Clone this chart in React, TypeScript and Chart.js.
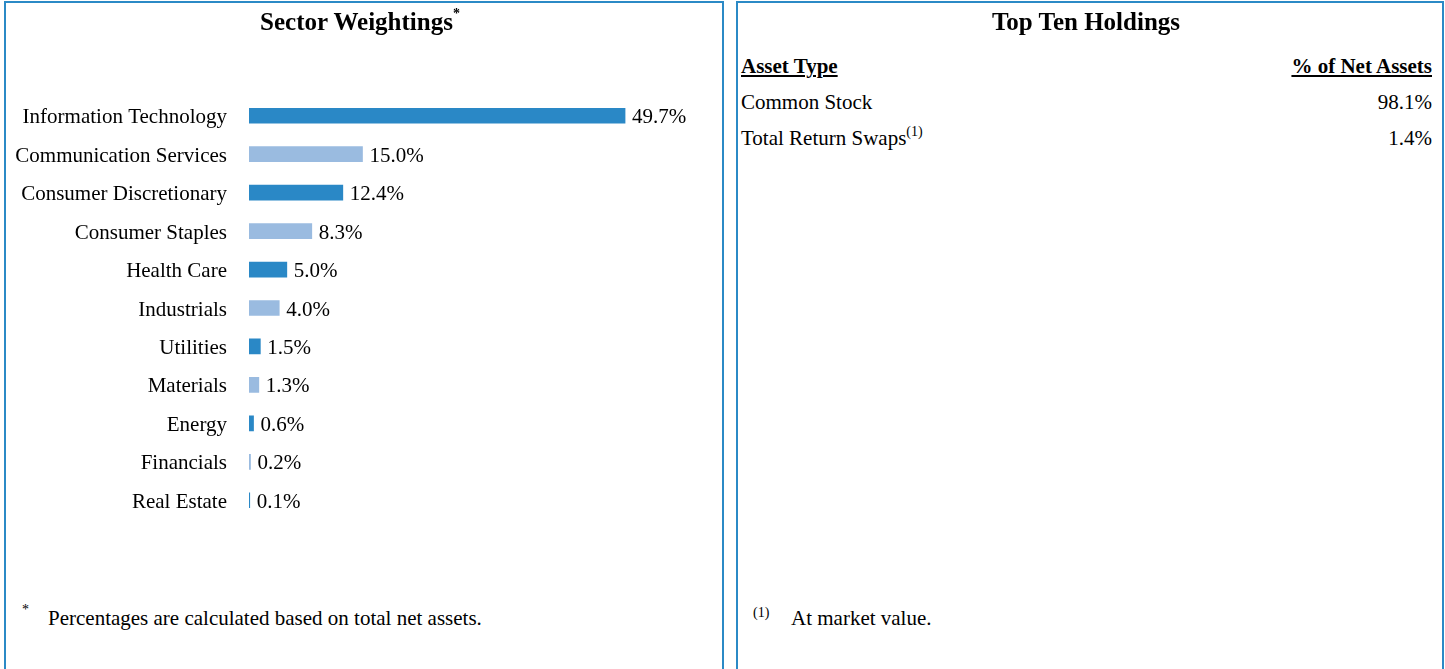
import React, { useEffect, useRef } from "react";
import { Chart, registerables } from "chart.js";

Chart.register(...registerables);

const sectors = [
  "Information Technology",
  "Communication Services",
  "Consumer Discretionary",
  "Consumer Staples",
  "Health Care",
  "Industrials",
  "Utilities",
  "Materials",
  "Energy",
  "Financials",
  "Real Estate",
];
const sectorWeights = [49.7, 15.0, 12.4, 8.3, 5.0, 4.0, 1.5, 1.3, 0.6, 0.2, 0.1];

const holdingTypes = ["Common Stock", "Total Return Swaps"];
const holdingNotes = ["", "(1)"];
const holdingValues = ["98.1%", "1.4%"];

const DARK = "#2A88C6";
const LIGHT = "#9ABBE0";
const BORDER = "#2B8AC6";
const FONT = '"Liberation Serif", "Times New Roman", Times, serif';

const valueLabelPlugin = {
  id: "valueLabels",
  afterDatasetsDraw(chart: any) {
    const ctx = chart.ctx;
    const meta = chart.getDatasetMeta(0);
    ctx.save();
    ctx.font = `21px ${FONT}`;
    ctx.fillStyle = "#000";
    ctx.textAlign = "left";
    ctx.textBaseline = "middle";
    meta.data.forEach((bar: any, i: number) => {
      const v = chart.data.datasets[0].data[i];
      ctx.fillText(`${Number(v).toFixed(1)}%`, bar.x + 7, bar.y + 2);
    });
    ctx.restore();
  },
};

function SectorChart() {
  const ref = useRef<HTMLCanvasElement | null>(null);
  useEffect(() => {
    if (!ref.current) return;
    const chart = new Chart(ref.current, {
      type: "bar",
      data: {
        labels: sectors,
        datasets: [
          {
            data: sectorWeights,
            backgroundColor: sectorWeights.map((_, i) => (i % 2 === 0 ? DARK : LIGHT)),
            barThickness: 15,
            borderWidth: 0,
          },
        ],
      },
      options: {
        indexAxis: "y",
        animation: false,
        responsive: false,
        maintainAspectRatio: false,
        layout: { padding: { top: 96.5, bottom: 40.5, right: 19, left: 0 } },
        plugins: { legend: { display: false }, tooltip: { enabled: false }, title: { display: false } },
        scales: {
          x: { display: false, min: 0, max: 60 },
          y: {
            grid: { display: false, drawTicks: false },
            border: { display: false },
            ticks: {
              color: "#000",
              padding: 22,
              labelOffset: 2,
              font: { family: FONT, size: 21 },
            },
            afterFit(scale: any) {
              scale.width = 249;
            },
          },
        },
      },
      plugins: [valueLabelPlugin],
    } as any);
    return () => chart.destroy();
  }, []);
  return (
    <canvas
      ref={ref}
      width={722}
      height={560}
      style={{ position: "absolute", left: 0, top: 0, width: 722, height: 560 }}
    />
  );
}

export default function App() {
  const panel: React.CSSProperties = {
    position: "absolute",
    top: 1,
    height: 720,
    border: `2px solid ${BORDER}`,
    boxSizing: "border-box",
  };
  const txt: React.CSSProperties = {
    position: "absolute",
    fontFamily: FONT,
    fontSize: 21,
    lineHeight: "24px",
    color: "#000",
    whiteSpace: "nowrap",
  };
  return (
    <div
      style={{
        position: "absolute",
        left: 0,
        top: 0,
        width: 1445,
        height: 669,
        overflow: "hidden",
        background: "#fff",
        fontFamily: FONT,
      }}
    >
      <div style={{ ...panel, left: 4, width: 720 }} />
      <div style={{ ...panel, left: 736, width: 708 }} />
      <SectorChart />
      <div
        style={{
          ...txt,
          left: 0,
          width: 720,
          top: 8,
          textAlign: "center",
          fontWeight: "bold",
          fontSize: 25,
          lineHeight: "28px",
        }}
      >
        Sector Weightings
        <sup style={{ fontSize: 14, lineHeight: 0, position: "relative", top: -3 }}>*</sup>
      </div>
      <div style={{ ...txt, left: 22, top: 598, fontSize: 14 }}>*</div>
      <div style={{ ...txt, left: 48, top: 606 }}>Percentages are calculated based on total net assets.</div>

      <div
        style={{
          ...txt,
          left: 736,
          width: 700,
          top: 8,
          textAlign: "center",
          fontWeight: "bold",
          fontSize: 25,
          lineHeight: "28px",
        }}
      >
        Top Ten Holdings
      </div>
      <div style={{ ...txt, left: 741, top: 54, fontWeight: "bold", textDecoration: "underline" }}>Asset Type</div>
      <div
        style={{
          ...txt,
          right: 1445 - 1432,
          top: 54,
          fontWeight: "bold",
          textDecoration: "underline",
          textAlign: "right",
        }}
      >
        % of Net Assets
      </div>
      {holdingTypes.map((t, i) => (
        <React.Fragment key={t}>
          <div style={{ ...txt, left: 741, top: 90 + i * 36 }}>
            {t}
            {holdingNotes[i] ? (
              <sup style={{ fontSize: 14, lineHeight: 0, position: "relative", top: -1 }}>{holdingNotes[i]}</sup>
            ) : null}
          </div>
          <div style={{ ...txt, right: 1445 - 1432, top: 90 + i * 36, textAlign: "right" }}>{holdingValues[i]}</div>
        </React.Fragment>
      ))}
      <div style={{ ...txt, left: 753, top: 601, fontSize: 14 }}>(1)</div>
      <div style={{ ...txt, left: 791, top: 606 }}>At market value.</div>
    </div>
  );
}
